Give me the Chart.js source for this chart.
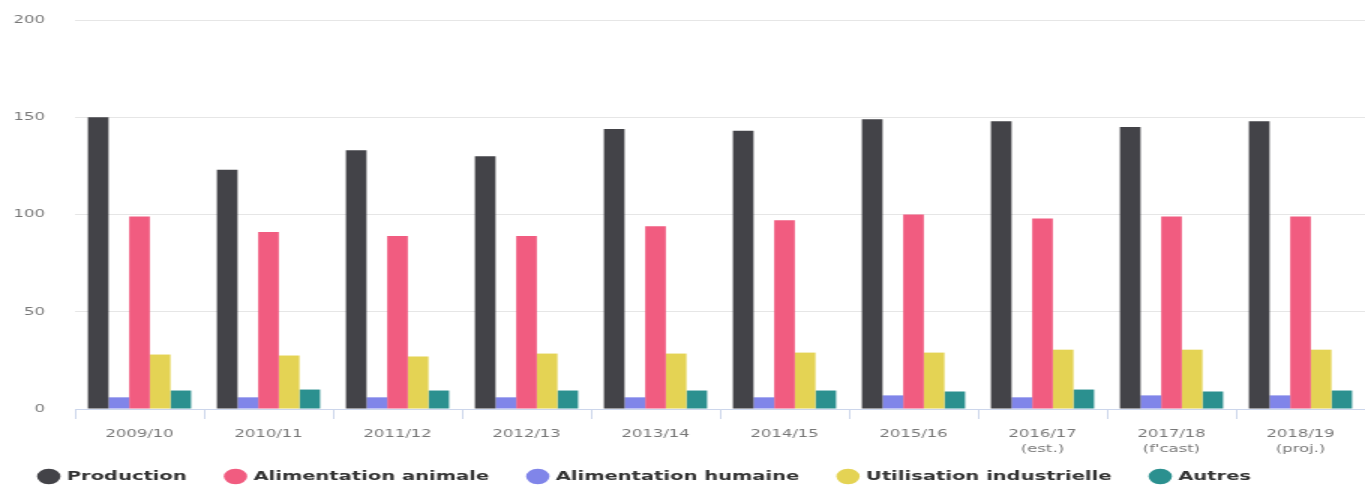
<!DOCTYPE html>
<html>
<head>
<meta charset="utf-8">
<script src="https://cdn.jsdelivr.net/npm/chart.js@4"></script>
<style>
  html, body { margin: 0; padding: 0; background: #ffffff; overflow: hidden; }
  #wrap { width: 910px; height: 488px; transform: scaleX(1.5); transform-origin: 0 0; }
</style>
</head>
<body>
<div id="wrap"><canvas id="c"></canvas></div>
<script>
const categories = ['2009/10', '2010/11', '2011/12', '2012/13', '2013/14', '2014/15', '2015/16',
  ['2016/17', '(est.)'], ['2017/18', "(f'cast)"], ['2018/19', '(proj.)']];
const production   = [150, 123, 133, 130, 144, 143, 149, 148, 145, 148];
const alimHumaine  = [6, 6, 6, 6, 6, 6, 7, 6, 7, 7];
const alimAnimale  = [99, 91, 89, 89, 94, 97, 100, 98, 99, 99];
const industrielle = [28, 27.5, 27, 28.5, 28.5, 29, 29, 30.5, 30.5, 30.5];
const autres       = [9.5, 10, 9.5, 9.5, 9.5, 9.5, 9, 10, 9, 9.5];
const yTicks = [0, 50, 100, 150, 200];
const legendOrder = ['Production', 'Alimentation animale', 'Alimentation humaine', 'Utilisation industrielle', 'Autres'];

const ds = (label, data, color) => ({ label, data, backgroundColor: color, borderWidth: 0,
  barPercentage: 1.0, categoryPercentage: 0.8 });

new Chart(document.getElementById('c'), {
  type: 'bar',
  data: {
    labels: categories,
    datasets: [
      ds('Production', production, '#434348'),
      ds('Alimentation humaine', alimHumaine, '#8085e9'),
      ds('Alimentation animale', alimAnimale, '#f15c80'),
      ds('Utilisation industrielle', industrielle, '#e4d354'),
      ds('Autres', autres, '#2b908f')
    ]
  },
  options: {
    responsive: true,
    maintainAspectRatio: false,
    animation: false,
    layout: { padding: { top: 20, right: 0, bottom: -5, left: 0 } },
    plugins: {
      tooltip: { enabled: false },
      legend: {
        position: 'bottom',
        align: 'start',
        labels: {
          usePointStyle: true,
          pointStyle: 'circle',
          boxWidth: 11,
          boxHeight: 11,
          padding: 27,
          color: '#333333',
          font: { family: 'DejaVu Sans', size: 13, weight: 'bold' },
          sort: (a, b) => legendOrder.indexOf(a.text) - legendOrder.indexOf(b.text)
        }
      }
    },
    scales: {
      x: {
        offset: true,
        afterFit: (s) => { s.height = 34; s._computeLabelArea = () => undefined; },
        grid: { offset: true, drawOnChartArea: false, drawTicks: true, tickLength: 10, color: '#ccd6eb' },
        border: { display: true, color: '#ccd6eb' },
        ticks: { color: '#777777', padding: 7, maxRotation: 0, autoSkip: false,
          font: { family: 'DejaVu Sans', size: 11, lineHeight: 1.4 } }
      },
      y: {
        min: 0, max: 200,
        afterBuildTicks: (s) => { s.ticks = yTicks.map(v => ({ value: v })); },
        afterFit: (s) => { s.width = 50; },
        grid: { color: '#e6e6e6', drawTicks: true, tickLength: 20, tickColor: 'rgba(0,0,0,0)' },
        border: { display: false },
        ticks: { color: '#777777', padding: 0, font: { family: 'DejaVu Sans', size: 11 } }
      }
    }
  }
});
</script>
</body>
</html>
